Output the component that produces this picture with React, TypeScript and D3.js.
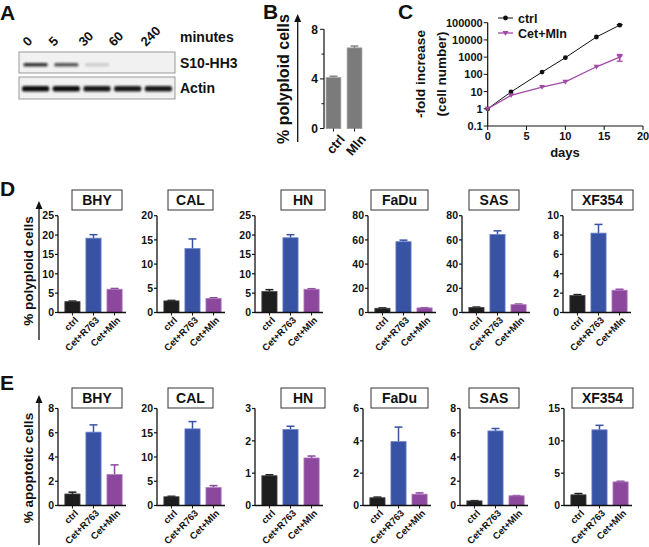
import React from "react";
import * as d3 from "d3";

// ---------- DATA ----------
const lanesA = ["0", "5", "30", "60", "240"];
const s10Band = [0.85, 0.7, 0.15, 0.0, 0.0];
const actinBand = [1, 1, 0.95, 0.95, 0.95];

const groupsB = ["ctrl", "Mln"];
const valuesB = [4.1, 6.5];
const errB = [0.12, 0.15];
const ticksB = [0, 4, 8];

const daysC = [0, 3, 7, 10, 14, 17];
const ctrlC = [1, 9.5, 135, 930, 14800, 72000];
const ctrlErrC = [0, 0, 0, 0, 0, 6000];
const mlnC = [1, 6, 18, 37, 275, 1000];
const mlnErrC = [0, 0, 0, 0, 0, 420];
const ticksCY = [0.1, 1, 10, 100, 1000, 10000, 100000];
const tickLabelsCY = ["0.1", "1", "10", "100", "1000", "10000", "100000"];
const ticksCX = [0, 5, 10, 15, 20];

const cellLines = ["BHY", "CAL", "HN", "FaDu", "SAS", "XF354"];
const treatments = ["ctrl", "Cet+R763", "Cet+Mln"];

const polyMeans = [
  [2.8, 19.2, 6.0],
  [2.4, 13.2, 2.9],
  [5.4, 19.3, 6.0],
  [3.5, 58.5, 3.8],
  [4.2, 64.5, 6.5],
  [1.75, 8.2, 2.3],
];
const polyErr = [
  [0.15, 0.9, 0.2],
  [0.1, 2.0, 0.15],
  [0.5, 0.8, 0.15],
  [0.3, 1.3, 0.2],
  [0.3, 3.0, 0.5],
  [0.1, 0.9, 0.1],
];
const polyMax = [25, 20, 25, 80, 80, 10];
const polyStep = [5, 5, 5, 20, 20, 2];

const apoMeans = [
  [0.95, 6.05, 2.55],
  [1.8, 15.8, 3.7],
  [0.92, 2.35, 1.47],
  [0.48, 3.95, 0.7],
  [0.38, 6.15, 0.8],
  [1.65, 11.7, 3.65],
];
const apoErr = [
  [0.15, 0.6, 0.8],
  [0.1, 1.5, 0.4],
  [0.03, 0.1, 0.06],
  [0.04, 0.9, 0.08],
  [0.02, 0.2, 0.02],
  [0.2, 0.7, 0.1],
];
const apoMax = [8, 20, 3, 6, 8, 15];
const apoStep = [2, 5, 1, 2, 2, 5];

// ---------- LAYOUT ----------
const FONT = "'Liberation Sans', Arial, sans-serif";
const dAxisX = [58, 157, 255, 368, 462, 563];
const eAxisX = [58, 157, 255, 363, 460, 564];
const boxX = [
  [72, 122],
  [168, 213],
  [281, 325],
  [371, 428],
  [469, 519],
  [572, 633],
];
const fills = ["#1e1e1e", "#3852a4", "#8b489c"];
const edges = ["#444", "#6a80c8", "#b07ac0"];

function Arrow({ x, y0, y1 }: { x: number; y0: number; y1: number }) {
  return (
    <g>
      <line x1={x} x2={x} y1={y1} y2={y0 + 6} stroke="#111" strokeWidth={1.3} />
      <path d={`M${x - 3.5},${y0 + 8} L${x},${y0} L${x + 3.5},${y0 + 8} Z`} fill="#111" />
    </g>
  );
}

function BarPanel({
  idx,
  axisX,
  top,
  bottom,
  boxTop,
  means,
  errs,
  yMax,
  step,
}: {
  idx: number;
  axisX: number;
  top: number;
  bottom: number;
  boxTop: number;
  means: number[];
  errs: number[];
  yMax: number;
  step: number;
}) {
  const y = d3.scaleLinear().domain([0, yMax]).range([bottom, top]);
  const x = d3
    .scaleBand()
    .domain(treatments)
    .range([axisX + 3.5, axisX + 67.5])
    .paddingInner(0.28)
    .paddingOuter(0.16);
  const ticks = d3.range(0, yMax + step / 2, step);
  const [bx0, bx1] = boxX[idx];
  return (
    <g fontFamily={FONT} fontWeight="bold">
      <rect x={bx0} y={boxTop} width={bx1 - bx0} height={20} fill="#fff" stroke="#333" strokeWidth={1} />
      <text x={(bx0 + bx1) / 2} y={boxTop + 15} textAnchor="middle" fontSize={14} fill="#111">
        {cellLines[idx]}
      </text>
      {treatments.map((t, i) => {
        const bx = x(t)!;
        const bw = x.bandwidth();
        const cx = bx + bw / 2;
        const yv = y(means[i]);
        const ye = y(means[i] + errs[i]);
        return (
          <g key={t}>
            <line x1={cx} x2={cx} y1={yv} y2={ye} stroke={fills[i]} strokeWidth={1.5} />
            <line x1={cx - 4} x2={cx + 4} y1={ye} y2={ye} stroke={fills[i]} strokeWidth={1.5} />
            <rect x={bx} y={yv} width={bw} height={bottom - yv} fill={fills[i]} stroke={edges[i]} strokeWidth={0.8} />
            <line x1={cx} x2={cx} y1={bottom} y2={bottom + 3} stroke="#111" strokeWidth={1} />
            <g transform={`translate(${cx + 4},${bottom + 6}) rotate(-45)`}>
              <text textAnchor="end" fontSize={9.5} dy="0.35em" fill="#111">
                {t}
              </text>
            </g>
          </g>
        );
      })}
      <line x1={axisX} x2={axisX} y1={top} y2={bottom} stroke="#111" strokeWidth={1.3} />
      <line x1={axisX} x2={axisX + 68} y1={bottom} y2={bottom} stroke="#111" strokeWidth={1.3} />
      {ticks.map((t) => (
        <g key={t}>
          <line x1={axisX - 3} x2={axisX} y1={y(t)} y2={y(t)} stroke="#111" strokeWidth={1.2} />
          <text x={axisX - 4} y={y(t)} dy="0.36em" textAnchor="end" fontSize={10.5} fill="#111">
            {t}
          </text>
        </g>
      ))}
    </g>
  );
}

function PanelA() {
  const laneX = d3.scaleBand().domain(lanesA).range([19, 175]).padding(0.08);
  const labelX = [28, 54, 84, 114, 146];
  return (
    <g fontFamily={FONT} fontWeight="bold" fill="#111">
      <defs>
        <filter id="blur" x="-20%" y="-50%" width="140%" height="200%">
          <feGaussianBlur stdDeviation="1.2" />
        </filter>
      </defs>
      <text x={0} y={20} fontSize={21}>A</text>
      {lanesA.map((l, i) => (
        <g key={l} transform={`translate(${labelX[i]},${47}) rotate(-45)`}>
          <text fontSize={13}>{l}</text>
        </g>
      ))}
      <text x={180} y={42} fontSize={14}>minutes</text>
      <text x={180} y={68} fontSize={14}>S10-HH3</text>
      <text x={180} y={93} fontSize={14}>Actin</text>
      <rect x={19} y={52} width={156} height={21} fill="#f1f1f1" stroke="#999" strokeWidth={1} />
      <rect x={19} y={77} width={156} height={22} fill="#f1f1f1" stroke="#999" strokeWidth={1} />
      {lanesA.map((l, i) => (
        <g key={l} filter="url(#blur)">
          {s10Band[i] > 0.01 && (
            <rect
              x={laneX(l)! + 2}
              y={63}
              width={laneX.bandwidth() - 4}
              height={3.5}
              rx={1.5}
              fill="#111"
              opacity={s10Band[i]}
            />
          )}
          <rect
            x={laneX(l)! + 0.5}
            y={86}
            width={laneX.bandwidth() - 1}
            height={5.5}
            rx={2}
            fill="#111"
            opacity={actinBand[i]}
          />
        </g>
      ))}
    </g>
  );
}

function PanelB() {
  const top = 29.3;
  const bottom = 128.5;
  const axisX = 324;
  const y = d3.scaleLinear().domain([0, 8]).range([bottom, top]);
  const x = d3.scaleBand().domain(groupsB).range([axisX, axisX + 40]).paddingInner(0.3).paddingOuter(0.1);
  return (
    <g fontFamily={FONT} fontWeight="bold" fill="#111">
      <text x={263} y={19} fontSize={21}>B</text>
      <Arrow x={297.7} y0={14} y1={142} />
      <text transform={`translate(288.5,79) rotate(-90)`} textAnchor="middle" fontSize={16}>
        % polyploid cells
      </text>
      {groupsB.map((g, i) => {
        const bx = x(g)!;
        const bw = x.bandwidth();
        const cx = bx + bw / 2;
        const yv = y(valuesB[i]);
        const ye = y(valuesB[i] + errB[i]);
        return (
          <g key={g}>
            <line x1={cx} x2={cx} y1={yv} y2={ye} stroke="#777" strokeWidth={1.3} />
            <line x1={cx - 4} x2={cx + 4} y1={ye} y2={ye} stroke="#777" strokeWidth={1.3} />
            <rect x={bx} y={yv} width={bw} height={bottom - yv} fill="#7b7b7b" stroke="#9a9a9a" strokeWidth={0.8} />
            <line x1={cx} x2={cx} y1={bottom} y2={bottom + 3} stroke="#111" />
            <g transform={`translate(${cx + 5},${bottom + 5}) rotate(-50)`}>
              <text textAnchor="end" dy="0.7em" fontSize={13}>
                {g}
              </text>
            </g>
          </g>
        );
      })}
      <line x1={axisX} x2={axisX} y1={top} y2={bottom} stroke="#111" strokeWidth={1.2} />
      {d3.range(0, 9, 2).map((t) => (
        <line key={t} x1={axisX - (t % 4 === 0 ? 4 : 2.5)} x2={axisX} y1={y(t)} y2={y(t)} stroke="#111" />
      ))}
      {ticksB.map((t) => (
        <text key={t} x={axisX - 6} y={y(t)} dy="0.36em" textAnchor="end" fontSize={12}>
          {t}
        </text>
      ))}
    </g>
  );
}

function PanelC() {
  const x = d3.scaleLinear().domain([0, 20]).range([487.7, 643]);
  const y = d3.scaleLog().domain([0.1, 100000]).range([126, 22.7]);
  const line = d3
    .line<[number, number]>()
    .x((d) => x(d[0]))
    .y((d) => y(d[1]));
  const ctrlPts = daysC.map((d, i) => [d, ctrlC[i]] as [number, number]);
  const mlnPts = daysC.map((d, i) => [d, mlnC[i]] as [number, number]);
  const purple = "#a14aa6";
  const tri = (cx: number, cy: number, s = 3) =>
    `M${cx - s},${cy - s * 0.7} L${cx + s},${cy - s * 0.7} L${cx},${cy + s * 0.9} Z`;
  return (
    <g fontFamily={FONT} fontWeight="bold" fill="#111">
      <text x={398} y={19} fontSize={21}>C</text>
      <text transform="translate(424.5,74) rotate(-90)" textAnchor="middle" fontSize={13.5}>
        -fold increase
      </text>
      <text transform="translate(446,74) rotate(-90)" textAnchor="middle" fontSize={13.5}>
        (cell number)
      </text>
      <text x={565} y={157} textAnchor="middle" fontSize={13}>days</text>
      <line x1={x(0)} x2={x(0)} y1={y(100000)} y2={y(0.1)} stroke="#111" strokeWidth={1.2} />
      <line x1={x(0)} x2={x(20)} y1={y(0.1)} y2={y(0.1)} stroke="#111" strokeWidth={1.2} />
      {ticksCY.map((t, i) => (
        <g key={t}>
          <line x1={x(0) - 4} x2={x(0)} y1={y(t)} y2={y(t)} stroke="#111" />
          <text x={x(0) - 5} y={y(t)} dy="0.36em" textAnchor="end" fontSize={11}>
            {tickLabelsCY[i]}
          </text>
        </g>
      ))}
      {ticksCX.map((t) => (
        <g key={t}>
          <line x1={x(t)} x2={x(t)} y1={y(0.1)} y2={y(0.1) + 4} stroke="#111" />
          <text x={x(t)} y={y(0.1) + 14} textAnchor="middle" fontSize={11}>
            {t}
          </text>
        </g>
      ))}
      <path d={line(ctrlPts)!} fill="none" stroke="#111" strokeWidth={1} />
      <path d={line(mlnPts)!} fill="none" stroke={purple} strokeWidth={1.3} />
      {daysC.map((d, i) =>
        ctrlErrC[i] > 0 ? (
          <g key={"ce" + d}>
            <line x1={x(d)} x2={x(d)} y1={y(ctrlC[i] - ctrlErrC[i])} y2={y(ctrlC[i] + ctrlErrC[i])} stroke="#111" />
            <line x1={x(d) - 3} x2={x(d) + 3} y1={y(ctrlC[i] + ctrlErrC[i])} y2={y(ctrlC[i] + ctrlErrC[i])} stroke="#111" />
          </g>
        ) : null
      )}
      {daysC.map((d, i) =>
        mlnErrC[i] > 0 ? (
          <g key={"me" + d}>
            <line x1={x(d)} x2={x(d)} y1={y(mlnC[i] - mlnErrC[i])} y2={y(mlnC[i] + mlnErrC[i])} stroke={purple} strokeWidth={1.3} />
            <line x1={x(d) - 3} x2={x(d) + 3} y1={y(mlnC[i] + mlnErrC[i])} y2={y(mlnC[i] + mlnErrC[i])} stroke={purple} strokeWidth={1.3} />
            <line x1={x(d) - 3} x2={x(d) + 3} y1={y(mlnC[i] - mlnErrC[i])} y2={y(mlnC[i] - mlnErrC[i])} stroke={purple} strokeWidth={1.3} />
          </g>
        ) : null
      )}
      {daysC.map((d, i) => (
        <circle key={"c" + d} cx={x(d)} cy={y(ctrlC[i])} r={2.4} fill="#111" />
      ))}
      {daysC.map((d, i) => (
        <path key={"m" + d} d={tri(x(d), y(mlnC[i]))} fill={purple} />
      ))}
      {/* legend */}
      <line x1={498} x2={513} y1={18} y2={18} stroke="#111" />
      <circle cx={505.5} cy={18} r={2.4} fill="#111" />
      <text x={518} y={22.5} fontSize={12.5}>ctrl</text>
      <line x1={498} x2={513} y1={33} y2={33} stroke={purple} strokeWidth={1.3} />
      <path d={tri(505.5, 33)} fill={purple} />
      <text x={518} y={37.5} fontSize={12.5}>Cet+Mln</text>
    </g>
  );
}

export default function App() {
  return (
    <svg
      width={649}
      height={547}
      viewBox="0 0 649 547"
      style={{ position: "absolute", left: 0, top: 0, background: "#fff" }}
    >
      <rect width={649} height={547} fill="#fff" />
      <PanelA />
      <PanelB />
      <PanelC />
      <g fontFamily={FONT} fontWeight="bold" fill="#111">
        <text x={0} y={196} fontSize={21}>D</text>
        <Arrow x={39} y0={201} y1={340} />
        <text transform="translate(33,271) rotate(-90)" textAnchor="middle" fontSize={13.5}>
          % polyploid cells
        </text>
        <text x={0} y={390} fontSize={21}>E</text>
        <Arrow x={39} y0={395} y1={545} />
        <text transform="translate(33,468) rotate(-90)" textAnchor="middle" fontSize={13.5}>
          % apoptotic cells
        </text>
      </g>
      {cellLines.map((c, i) => (
        <BarPanel
          key={"d" + c}
          idx={i}
          axisX={dAxisX[i]}
          top={215.7}
          bottom={312.5}
          boxTop={190}
          means={polyMeans[i]}
          errs={polyErr[i]}
          yMax={polyMax[i]}
          step={polyStep[i]}
        />
      ))}
      {cellLines.map((c, i) => (
        <BarPanel
          key={"e" + c}
          idx={i}
          axisX={eAxisX[i]}
          top={408.5}
          bottom={505.5}
          boxTop={388}
          means={apoMeans[i]}
          errs={apoErr[i]}
          yMax={apoMax[i]}
          step={apoStep[i]}
        />
      ))}
    </svg>
  );
}
